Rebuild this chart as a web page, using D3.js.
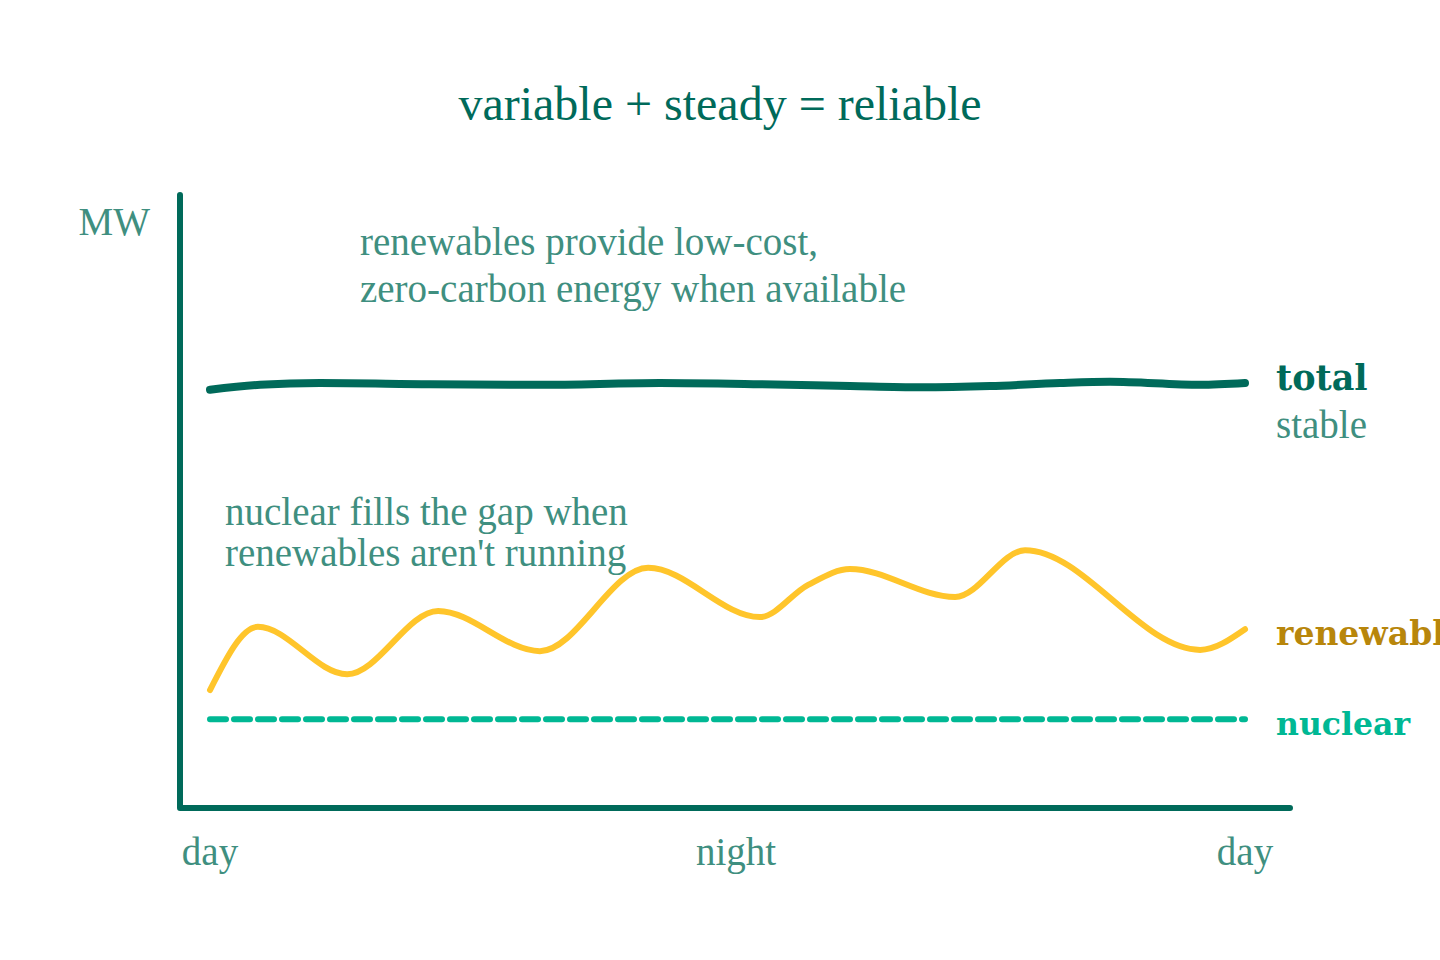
<!DOCTYPE html>
<html>
<head>
<meta charset="utf-8">
<script src="https://cdn.jsdelivr.net/npm/d3@7"></script>
<style>
  body { margin: 0; background: #fff; }
  svg { display: block; font-family: "Liberation Serif", serif; }
</style>
</head>
<body>
<div id="container"></div>
<script>
/* DATA */
// hours from day (0) through night (12) back to day (24), values in MW (arbitrary units)
const totalHours = [0, 1.16, 2.55, 5.1, 7.65, 10.43, 12.75, 14.84, 16.46, 18.09, 19.71, 20.87, 22.96, 24];
const totalMW = [68.8, 69.6, 69.9, 69.7, 69.6, 69.9, 69.7, 69.4, 69.2, 69.4, 69.9, 70.1, 69.6, 69.9];

const renewHours = [0, 1.11, 3.18, 5.29, 7.65, 10.16, 12.75, 13.87, 14.84, 17.28, 18.9, 22.96, 24];
const renewMW = [19.4, 29.8, 22.0, 32.4, 25.8, 39.5, 31.4, 36.7, 39.3, 34.7, 42.4, 26.0, 29.4];

const nuclearHours = [0, 24];
const nuclearMW = [14.6, 14.6];

const tickHours = [0, 12.2, 24];
const tickLabels = ["day", "night", "day"];

/* CONSTANTS */
const width = 1440;
const height = 960;
const dark = "#006a5a";
const soft = "#3f8f80";

const svg = d3.select("#container")
  .append("svg")
  .attr("width", width)
  .attr("height", height);

/* SCALES */
const x = d3.scaleLinear().domain([0, 24]).range([210, 1245]);
const y = d3.scaleLinear().domain([0, 100]).range([808, 200]);

const line = d3.line()
  .x(d => x(d[0]))
  .y(d => y(d[1]))
  .curve(d3.curveMonotoneX);

// title
svg.append("text")
  .attr("x", 720)
  .attr("y", 120)
  .attr("text-anchor", "middle")
  .attr("font-size", 48)
  .attr("fill", dark)
  .text("variable + steady = reliable");

// axes (hand drawn look)
svg.append("path")
  .attr("d", `M180,195 L180,${y(0)} L1290,${y(0)}`)
  .attr("fill", "none")
  .attr("stroke", dark)
  .attr("stroke-width", 6)
  .attr("stroke-linecap", "round")
  .attr("stroke-linejoin", "round");

svg.append("text")
  .attr("x", 150)
  .attr("y", 235)
  .attr("text-anchor", "end")
  .attr("font-size", 39)
  .attr("fill", soft)
  .text("MW");

svg.selectAll(".tick-label")
  .data(tickHours)
  .join("text")
  .attr("class", "tick-label")
  .attr("x", d => x(d))
  .attr("y", 865)
  .attr("text-anchor", "middle")
  .attr("font-size", 39)
  .attr("fill", soft)
  .text((d, i) => tickLabels[i]);

// lines
svg.append("path")
  .datum(d3.zip(nuclearHours, nuclearMW))
  .attr("d", line)
  .attr("fill", "none")
  .attr("stroke", "#00b894")
  .attr("stroke-width", 6)
  .attr("stroke-linecap", "round")
  .attr("stroke-dasharray", "16 8");

svg.append("path")
  .datum(d3.zip(renewHours, renewMW))
  .attr("d", line)
  .attr("fill", "none")
  .attr("stroke", "#ffc52b")
  .attr("stroke-width", 6)
  .attr("stroke-linecap", "round");

svg.append("path")
  .datum(d3.zip(totalHours, totalMW))
  .attr("d", line)
  .attr("fill", "none")
  .attr("stroke", dark)
  .attr("stroke-width", 8)
  .attr("stroke-linecap", "round");

// line labels
const labelX = 1276;
svg.append("text")
  .attr("x", labelX).attr("y", 390)
  .attr("font-family", "DejaVu Serif")
  .attr("font-weight", "bold")
  .attr("font-size", 35)
  .attr("fill", dark)
  .text("total");

svg.append("text")
  .attr("x", labelX).attr("y", 438)
  .attr("font-size", 39)
  .attr("fill", soft)
  .text("stable");

svg.append("text")
  .attr("x", labelX).attr("y", 645)
  .attr("font-family", "DejaVu Serif")
  .attr("font-weight", "bold")
  .attr("font-size", 33)
  .attr("fill", "#b8860b")
  .text("renewables");

svg.append("text")
  .attr("x", labelX).attr("y", 735)
  .attr("font-family", "DejaVu Serif")
  .attr("font-weight", "bold")
  .attr("font-size", 31.5)
  .attr("fill", "#00b894")
  .text("nuclear");

// annotations
const notes = [
  { x: 360, y: 255, t: "renewables provide low-cost," },
  { x: 360, y: 302, t: "zero-carbon energy when available" },
  { x: 225, y: 525, t: "nuclear fills the gap when" },
  { x: 225, y: 566, t: "renewables aren't running" }
];
svg.selectAll(".note")
  .data(notes)
  .join("text")
  .attr("class", "note")
  .attr("x", d => d.x)
  .attr("y", d => d.y)
  .attr("font-size", 39)
  .attr("fill", soft)
  .text(d => d.t);
</script>
</body>
</html>
